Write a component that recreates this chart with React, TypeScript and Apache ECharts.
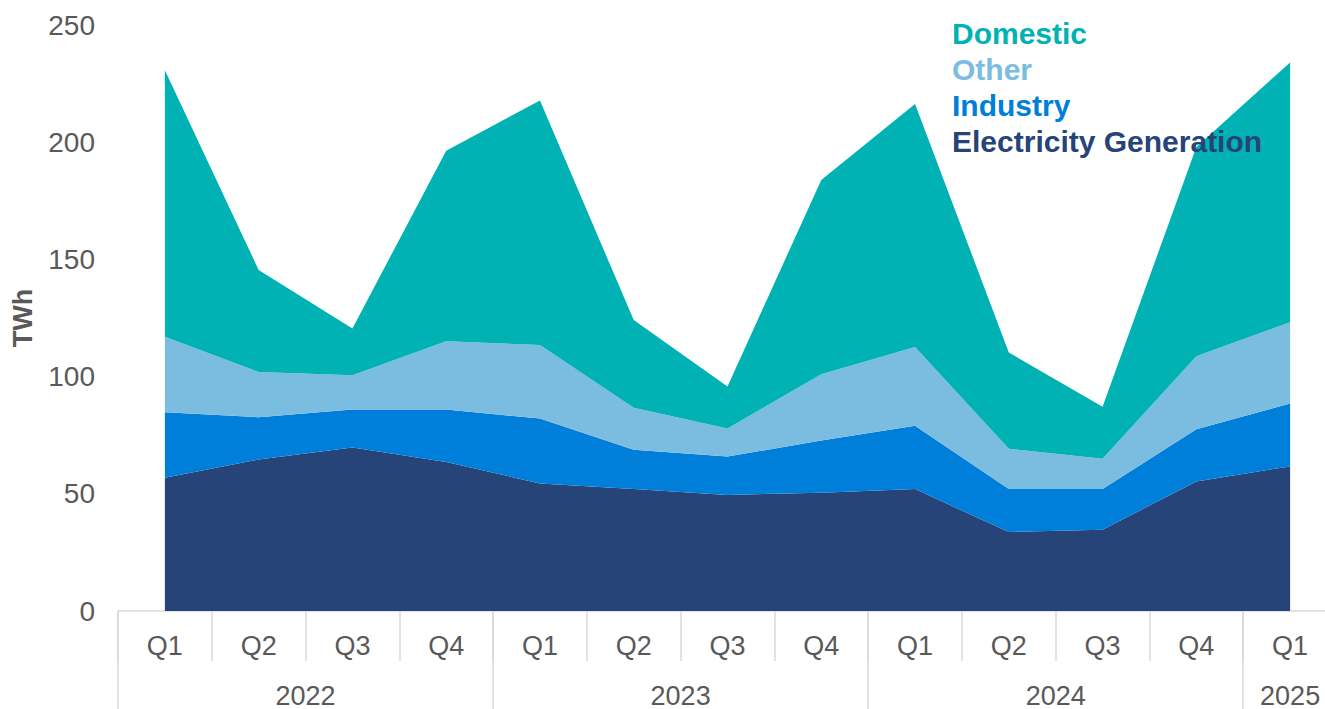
import React, { useEffect, useRef } from "react";
import * as echarts from "echarts";

const quarters = ["Q1", "Q2", "Q3", "Q4", "Q1", "Q2", "Q3", "Q4", "Q1", "Q2", "Q3", "Q4", "Q1"];
const years = ["2022", "2023", "2024", "2025"];
const quartersPerYear = [4, 4, 4, 1];

const electricityGeneration = [56.9, 64.6, 69.8, 63.6, 54.4, 52.0, 49.5, 50.5, 52.0, 33.7, 34.7, 55.3, 61.7];
const industry = [27.9, 18.1, 16.2, 22.4, 27.7, 16.8, 16.4, 22.2, 27.0, 18.3, 17.3, 22.2, 26.8];
const other = [32.2, 19.3, 14.6, 29.1, 31.4, 17.9, 12.0, 28.3, 33.6, 17.2, 13.0, 31.2, 34.7];
const domestic = [113.7, 43.5, 19.9, 81.3, 104.3, 37.4, 17.9, 82.9, 103.7, 41.1, 22.1, 89.3, 110.8];

const yTicks = [0, 50, 100, 150, 200, 250];

const COLORS = {
  domestic: "#00B2B3",
  other: "#7BBDE0",
  industry: "#007FDA",
  elec: "#264478",
};

export default function App() {
  const ref = useRef<HTMLDivElement>(null);

  useEffect(() => {
    if (!ref.current) return;
    const chart = echarts.init(ref.current, undefined, { renderer: "svg" });

    // Half-quarter points for the year axis (boundaryGap false)
    const nPoints = quarters.length * 2 + 1;
    const yearPointLabels: string[] = new Array(nPoints).fill("");
    const separators = new Set<number>();
    let start = 0;
    years.forEach((y, i) => {
      separators.add(start * 2);
      yearPointLabels[start * 2 + quartersPerYear[i]] = y;
      start += quartersPerYear[i];
    });
    separators.add(start * 2);
    const yearPoints = yearPointLabels.map((_, i) => String(i));

    const font = "'Liberation Sans', Arial, sans-serif";
    const gray = "#595959";

    const mkSeries = (name: string, data: number[], color: string) => ({
      name,
      type: "line",
      stack: "total",
      data,
      symbol: "none",
      lineStyle: { width: 0 },
      areaStyle: { color, opacity: 1 },
      itemStyle: { color },
      emphasis: { disabled: true },
      z: 2,
    });

    chart.setOption({
      animation: false,
      textStyle: { fontFamily: font },
      grid: { left: 118, right: 1, top: 25, bottom: 97.5, containLabel: false },
      legend: {
        orient: "vertical",
        left: 942,
        top: 13,
        icon: "none",
        itemWidth: 0,
        itemHeight: 30,
        itemGap: 6,
        selectedMode: false,
        textStyle: { fontSize: 30, lineHeight: 30, fontWeight: "bold", fontFamily: font },
        data: [
          { name: "Domestic", textStyle: { color: COLORS.domestic } },
          { name: "Other", textStyle: { color: COLORS.other } },
          { name: "Industry", textStyle: { color: COLORS.industry } },
          { name: "Electricity Generation", textStyle: { color: COLORS.elec } },
        ],
      },
      xAxis: [
        {
          type: "category",
          data: quarters,
          boundaryGap: true,
          position: "bottom",
          axisLine: { show: true, lineStyle: { color: "#D9D9D9", width: 1.5 } },
          axisTick: { show: true, length: 50, interval: 0, lineStyle: { color: "#D9D9D9", width: 1.5 } },
          axisLabel: { color: gray, fontSize: 27, margin: 21, interval: 0, fontFamily: font },
          splitLine: { show: false },
        },
        {
          type: "category",
          data: yearPoints,
          boundaryGap: false,
          position: "bottom",
          axisLine: { show: false },
          axisTick: {
            show: true,
            length: 100,
            interval: (index: number) => separators.has(index),
            lineStyle: { color: "#D9D9D9", width: 1.5 },
          },
          axisLabel: {
            color: gray,
            fontSize: 27,
            margin: 71,
            interval: 0,
            fontFamily: font,
            formatter: (_v: string, idx: number) => yearPointLabels[idx],
          },
          splitLine: { show: false },
        },
      ],
      yAxis: {
        type: "value",
        min: yTicks[0],
        max: yTicks[yTicks.length - 1],
        interval: 50,
        axisLine: { show: false },
        axisTick: { show: false },
        splitLine: { show: false },
        axisLabel: { color: gray, fontSize: 28, margin: 23, fontFamily: font },
        name: "TWh",
        nameLocation: "middle",
        nameGap: 82,
        nameRotate: 90,
        nameTextStyle: { color: gray, fontSize: 27, fontWeight: "bold", fontFamily: font },
      },
      series: [
        mkSeries("Electricity Generation", electricityGeneration, COLORS.elec),
        mkSeries("Industry", industry, COLORS.industry),
        mkSeries("Other", other, COLORS.other),
        mkSeries("Domestic", domestic, COLORS.domestic),
      ],
    });

    return () => chart.dispose();
  }, []);

  return (
    <div
      style={{ position: "fixed", left: 0, top: 0, width: "1325px", height: "709px", overflow: "hidden", background: "#fff" }}
    >
      <div ref={ref} style={{ width: "1340px", height: "709px" }} />
    </div>
  );
}
